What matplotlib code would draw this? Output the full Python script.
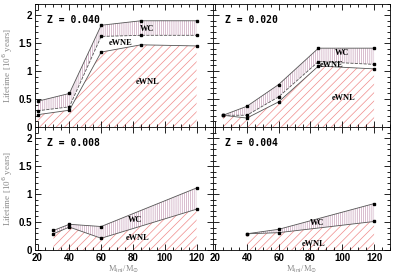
import numpy as np
import matplotlib
matplotlib.use('Agg')
import matplotlib.pyplot as plt
from matplotlib.ticker import MultipleLocator

# lifetimes (Myr), per metallicity
z040_m = [20, 40, 60, 85, 120]
z040_wc = [0.46, 0.60, 1.82, 1.90, 1.90]
z040_wne = [0.29, 0.36, 1.62, 1.64, 1.64]
z040_wnl = [0.22, 0.30, 1.34, 1.47, 1.45]

z020_m = [25, 40, 60, 85, 120]
z020_wc = [0.21, 0.37, 0.76, 1.41, 1.41]
z020_wne = [0.21, 0.21, 0.54, 1.17, 1.12]
z020_wnl = [0.21, 0.16, 0.45, 1.09, 1.04]

z008_m = [30, 40, 60, 120]
z008_wc = [0.35, 0.46, 0.42, 1.11]
z008_wnl = [0.29, 0.41, 0.21, 0.73]

z004_m = [40, 60, 120]
z004_wc = [0.29, 0.37, 0.83]
z004_wnl = [0.29, 0.31, 0.51]

panels = [
    ('Z = 0.040', z040_m, z040_wc, z040_wne, z040_wnl,
     [('WC', 89, 1.75), ('eWNE', 72, 1.50), ('eWNL', 89, 0.80)]),
    ('Z = 0.020', z020_m, z020_wc, z020_wne, z020_wnl,
     [('WC', 100, 1.32), ('eWNE', 93, 1.11), ('eWNL', 101, 0.52)]),
    ('Z = 0.008', z008_m, z008_wc, None, z008_wnl,
     [('WC', 81, 0.54), ('eWNL', 83, 0.21)]),
    ('Z = 0.004', z004_m, z004_wc, None, z004_wnl,
     [('WC', 84, 0.48), ('eWNL', 82, 0.11)]),
]

plt.rcParams['hatch.linewidth'] = 0.5
plt.rcParams['font.family'] = 'Liberation Sans'

fig = plt.figure(figsize=(3.94, 2.74), dpi=100)
L, R, B, T = 35/394, 390/394, 1-250/274, 1-4/274
w = (R-L)/2
h = (T-B)/2

red = '#f08a8a'
vcol = '#c9a3bb'
lcol = '#555555'

for i, (ztxt, m, wc, wne, wnl, labs) in enumerate(panels):
    row, col = divmod(i, 2)
    ax = fig.add_axes([L + col*w, B + (1-row)*h, w, h])
    m = np.array(m)
    ax.fill_between(m, 0, wnl, facecolor='none', edgecolor=red,
                    hatch='////', linewidth=0)
    lower = wne if wne is not None else wnl
    ax.fill_between(m, lower, wc, facecolor='none', edgecolor=vcol,
                    hatch='||||||||', linewidth=0)
    ax.plot(m, wc, color=lcol, lw=0.6, marker='s', ms=1.6, mfc='k', mec='k')
    if wne is not None:
        ax.plot(m, wne, color=lcol, lw=0.6, ls='--', marker='s', ms=1.6,
                mfc='k', mec='k')
    ax.plot(m, wnl, color=lcol, lw=0.6, marker='s', ms=1.6, mfc='k', mec='k')

    ax.text(0.07, 0.87, ztxt, transform=ax.transAxes, fontsize=7,
            family='DejaVu Sans Mono', fontweight='bold', va='center')
    for t, x, y in labs:
        ax.text(x, y, t, fontsize=6, family='Liberation Serif',
                fontweight='bold', ha='center', va='center')

    ax.set_xlim(18.4, 130)
    ax.set_ylim(0, 2.2)
    ax.xaxis.set_major_locator(MultipleLocator(20))
    ax.xaxis.set_minor_locator(MultipleLocator(5))
    ax.yaxis.set_major_locator(MultipleLocator(0.5))
    ax.yaxis.set_minor_locator(MultipleLocator(0.1))
    ax.tick_params(which='both', direction='in', top=True, right=True,
                   labelsize=7, pad=2, width=0.6)
    ax.tick_params(which='major', length=4)
    ax.tick_params(which='minor', length=2)
    ax.set_yticks([0, 0.5, 1, 1.5, 2])
    ax.set_yticklabels(['0', '0.5', '1', '1.5', '2'])
    for lab in ax.get_xticklabels() + ax.get_yticklabels():
        lab.set_fontweight('bold')
    for s in ax.spines.values():
        s.set_linewidth(0.6)
    if row == 0:
        ax.tick_params(labelbottom=False)
    else:
        ax.set_xlabel(r'M$_{\rm ini}$/M$_{\odot}$', fontsize=6,
                      family='Liberation Serif', color='#888888', labelpad=0.5)
    if col == 1:
        ax.tick_params(labelleft=False)
    else:
        ax.set_ylabel(r'Lifetime [10$^6$ years]', fontsize=6.5,
                      family='Liberation Serif', color='#888888', labelpad=3)

fig.savefig('out.png', dpi=100)
